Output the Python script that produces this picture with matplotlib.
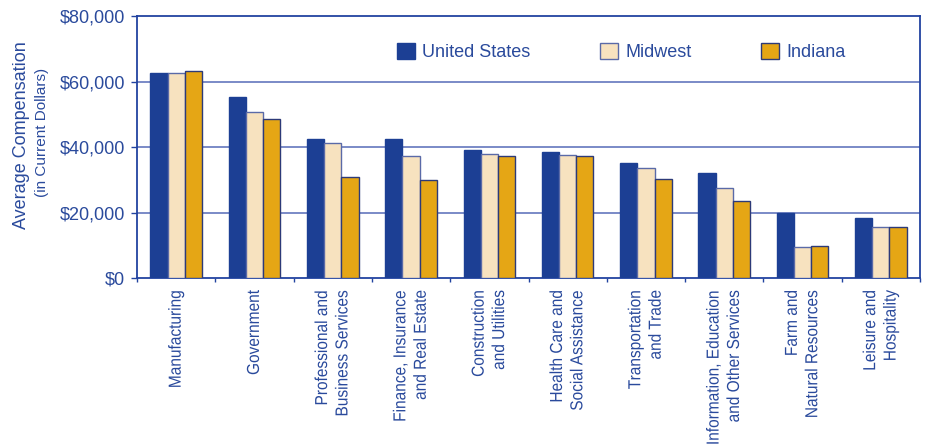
import matplotlib
matplotlib.use("Agg")
import matplotlib.pyplot as plt
import numpy as np
from matplotlib.patheffects import AbstractPathEffect
from matplotlib.transforms import Affine2D

categories = ["Manufacturing", "Government", "Professional and\nBusiness Services",
              "Finance, Insurance\nand Real Estate", "Construction\nand Utilities",
              "Health Care and\nSocial Assistance", "Transportation\nand Trade",
              "Information, Education\nand Other Services", "Farm and\nNatural Resources",
              "Leisure and\nHospitality"]
united_states = [62700, 55300, 42500, 42500, 39000, 38400, 35000, 32200, 20000, 18300]
midwest = [62500, 50600, 41200, 37100, 37900, 37600, 33600, 27400, 9500, 15600]
indiana = [63100, 48600, 30800, 30000, 37200, 37200, 30300, 23600, 9800, 15600]
series_names = ["United States", "Midwest", "Indiana"]
yticks = [0, 20000, 40000, 60000, 80000]
ytick_labels = ["$0", "$20,000", "$40,000", "$60,000", "$80,000"]

TXT = "#2a4a9c"
AX = "#2243a0"
GRID = "#6377bd"
colors = ["#1c3f94", "#f7e2bf", "#e5a615"]
edges = ["#1c3f94", "#5a6aa8", "#2d3a78"]


class Condense(AbstractPathEffect):
    """Squeeze vertical (rotated) text along its reading direction about its anchor."""
    def __init__(self, text, factor):
        super().__init__()
        self.text = text
        self.factor = factor

    def draw_path(self, renderer, gc, tpath, affine, rgbFace=None):
        x0, y0 = self.text.get_transform().transform(self.text.get_position())
        squeeze = Affine2D().translate(-x0, -y0).scale(1.0, self.factor).translate(x0, y0)
        renderer.draw_path(gc, tpath, affine + squeeze, rgbFace)


plt.rcParams['font.family'] = ['Liberation Sans', 'DejaVu Sans']
fig = plt.figure(figsize=(9.27, 4.45), dpi=100)
ax = fig.add_axes([137/927, 1-278/445, (920-137)/927, (278-16)/445])

x = np.arange(len(categories))
w = 0.22
for i, (vals, name) in enumerate(zip([united_states, midwest, indiana], series_names)):
    ax.bar(x + (i-1)*w, vals, width=w, color=colors[i], edgecolor=edges[i],
           linewidth=1.0, label=name, zorder=3)

ax.set_xlim(-0.5, len(categories)-0.5)
ax.set_ylim(0, 80000)
ax.set_yticks(yticks)
ax.set_yticklabels(ytick_labels, fontsize=13, color=TXT)
for y in yticks[1:-1]:
    ax.axhline(y, color=GRID, lw=1.2, zorder=1)

ax.set_xticks(np.arange(len(categories)+1) - 0.5)
ax.set_xticklabels([])
ax.tick_params(axis='x', direction='out', length=3, color=AX, width=1)
ax.tick_params(axis='y', direction='out', length=4, color=AX, width=1, pad=4.5)
for s in ax.spines.values():
    s.set_color(AX)
    s.set_linewidth(1.3)

for xi, lab in zip(x, categories):
    t = ax.text(xi, -0.045, lab, transform=ax.get_xaxis_transform(), rotation=90,
                ha='center', va='top', multialignment='right', fontsize=12.5,
                color=TXT, linespacing=1.45)
    t.set_path_effects([Condense(t, 0.89)])

leg = ax.legend(loc='upper left', bbox_to_anchor=(0.332, 0.898), ncol=3, frameon=False,
                fontsize=13, handlelength=1.0, handleheight=1.0, columnspacing=3.85,
                handletextpad=0.4, borderpad=0, borderaxespad=0)
for t in leg.get_texts():
    t.set_color(TXT)

fig.text(22/927, 1-135/445, "Average Compensation", rotation=90, ha='center', va='center',
         fontsize=13, color=TXT)
fig.text(42/927, 1-132/445, "(in Current Dollars)", rotation=90, ha='center', va='center',
         fontsize=11, color=TXT)

fig.savefig("out.png", dpi=100)
